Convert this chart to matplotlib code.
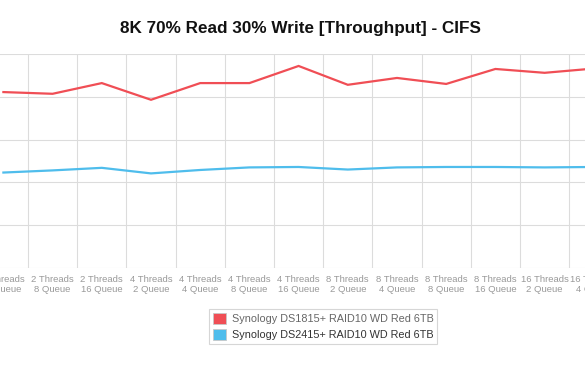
import matplotlib.pyplot as plt
import numpy as np
from matplotlib.patches import Patch

plt.rcParams['font.family'] = ['Liberation Sans', 'DejaVu Sans']

# categories visible in the (cropped) chart
categories = [
    "2 Threads\n4 Queue", "2 Threads\n8 Queue", "2 Threads\n16 Queue",
    "4 Threads\n2 Queue", "4 Threads\n4 Queue", "4 Threads\n8 Queue",
    "4 Threads\n16 Queue", "8 Threads\n2 Queue", "8 Threads\n4 Queue",
    "8 Threads\n8 Queue", "8 Threads\n16 Queue", "16 Threads\n2 Queue",
    "16 Threads\n4 Queue",
]
ds1815 = [41.1, 40.7, 43.2, 39.3, 43.2, 43.2, 47.2, 42.8, 44.4, 43.0, 46.5, 45.6, 46.6]
ds2415 = [22.3, 22.8, 23.4, 22.1, 22.9, 23.5, 23.6, 23.0, 23.5, 23.6, 23.6, 23.5, 23.6]
series_names = ["Synology DS1815+ RAID10 WD Red 6TB", "Synology DS2415+ RAID10 WD Red 6TB"]
colors = ["#f04e55", "#4fbdec"]

fig = plt.figure(figsize=(5.85, 3.7), dpi=100)
# the original chart is cut at both sides, so the axes run past the figure
ax = fig.add_axes([-0.2, 0.2757, 1.4, 0.5784])

x = np.arange(len(categories))
ax.plot(x, ds1815, color=colors[0], lw=1.6, solid_joinstyle='miter', zorder=3)
ax.plot(x, ds2415, color=colors[1], lw=1.6, solid_joinstyle='miter', zorder=3)

ax.set_xlim(-2.447, 14.199)
ax.set_ylim(0, 50)
ax.set_yticks(np.arange(0, 51, 10))
ax.set_yticklabels([])
ax.set_xticks(x)
ax.set_xticklabels(categories, fontsize=6.8, color="#999999", linespacing=1.2)
ax.set_xticks(np.arange(-0.5, 14, 1), minor=True)
ax.tick_params(axis='both', which='both', length=0)
ax.tick_params(axis='x', pad=5)
ax.grid(axis='x', which='minor', color="#dcdcdc", lw=0.8)
ax.grid(axis='y', which='major', color="#dcdcdc", lw=0.8)
for s in ax.spines.values():
    s.set_visible(False)

fig.text(300.5 / 585, 1 - 29 / 370, "8K 70% Read 30% Write [Throughput] - CIFS",
         ha='center', va='center', fontsize=12.3, fontweight='bold', color="#111111")

handles = [Patch(facecolor=c, edgecolor="#c8c8c8", lw=0.6) for c in colors]
leg = fig.legend(handles, series_names, loc='center',
                 bbox_to_anchor=(323 / 585, 1 - 326.5 / 370), fontsize=7.8,
                 frameon=True, fancybox=False, edgecolor="#cccccc",
                 handlelength=1.25, handleheight=1.25, handletextpad=0.5,
                 labelspacing=0.4, borderpad=0.35)
leg.get_frame().set_linewidth(0.8)
leg.get_texts()[0].set_color("#666666")
leg.get_texts()[1].set_color("#333333")

fig.savefig("out.png", dpi=100)
